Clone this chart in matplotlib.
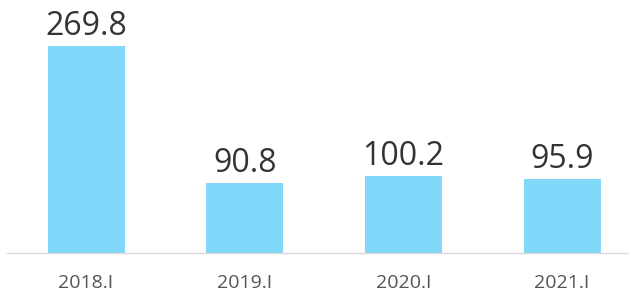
import matplotlib
matplotlib.use('Agg')
import matplotlib.pyplot as plt

categories = ['2018.I', '2019.I', '2020.I', '2021.I']
values = [269.8, 90.8, 100.2, 95.9]
value_labels = ['269.8', '90.8', '100.2', '95.9']

plt.rcParams['font.family'] = ['Open Sans', 'DejaVu Sans']

W, H = 635, 293
fig = plt.figure(figsize=(W / 100, H / 100), dpi=100)

# axes span from x=7px to 628px, baseline at y=253px
ax = fig.add_axes([7 / W, (H - 253) / H, (628 - 7) / W, 253 / H])

x = range(len(categories))
ax.bar(x, values, width=0.485, color='#80d8fa')

ax.set_xlim(-0.498, 3.415)
ax.set_ylim(0, 253 / 0.767)

for i, v in enumerate(values):
    ax.annotate(value_labels[i], (i, v), xytext=(0, 3), textcoords='offset pixels',
                ha='center', va='bottom', fontsize=23, color='#333333')

ax.set_xticks(list(x))
ax.set_xticklabels(categories, fontsize=14, color='#555555')
ax.tick_params(axis='x', length=0, pad=15)
ax.set_yticks([])

for s in ['top', 'right', 'left']:
    ax.spines[s].set_visible(False)
ax.spines['bottom'].set_color('#d9d9d9')
ax.spines['bottom'].set_linewidth(1)

fig.savefig('out.png', dpi=100)
